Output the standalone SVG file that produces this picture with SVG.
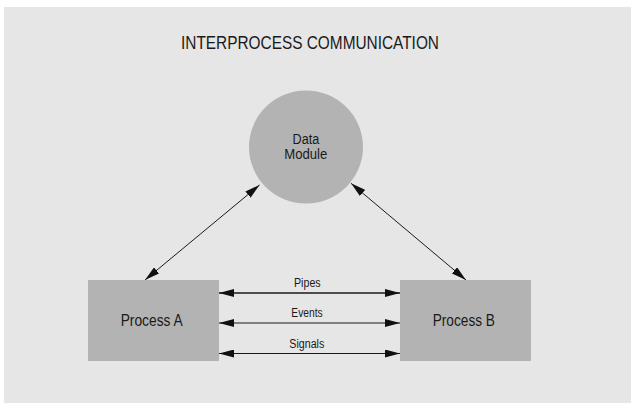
<svg xmlns="http://www.w3.org/2000/svg" width="631" height="403" viewBox="0 0 631 403">
  <style>
    .bg { fill: #e6e6e6; }
    .shape { fill: #b3b3b3; stroke: none; }
    .label { font-family: "Liberation Sans Narrow", "Liberation Sans", Arial, sans-serif; fill: #1a1a1a; }
    .conn { stroke: #1a1a1a; fill: none; }
  </style>
  <defs>
    <marker id="arrow" viewBox="0 0 15 8" refX="15" refY="4" markerWidth="15" markerHeight="8" markerUnits="userSpaceOnUse" orient="auto-start-reverse">
      <path d="M0,0 L15,4 L0,8 z" fill="#111"/>
    </marker>
  </defs>
  <rect class="bg" x="4" y="7" width="627" height="396"/>
  <text class="label" x="181" y="49" font-size="18" textLength="258" lengthAdjust="spacingAndGlyphs">INTERPROCESS COMMUNICATION</text>

  <g id="data-module">
    <ellipse class="shape" cx="306" cy="147" rx="57" ry="56.5"/>
    <text class="label" x="292.5" y="144.3" font-size="14" textLength="26.7" lengthAdjust="spacingAndGlyphs">Data</text>
    <text class="label" x="284.3" y="159" font-size="14" textLength="43" lengthAdjust="spacingAndGlyphs">Module</text>
  </g>
  <g id="process-a">
    <rect class="shape" x="88" y="280" width="131" height="81"/>
    <text class="label" x="120.7" y="325.7" font-size="16" textLength="62" lengthAdjust="spacingAndGlyphs">Process A</text>
  </g>
  <g id="process-b">
    <rect class="shape" x="400" y="280" width="131" height="81"/>
    <text class="label" x="432.7" y="325.7" font-size="16" textLength="62.3" lengthAdjust="spacingAndGlyphs">Process B</text>
  </g>

  <g id="connectors">
    <line class="conn" stroke-width="1" x1="145" y1="280" x2="259.5" y2="185" marker-start="url(#arrow)" marker-end="url(#arrow)"/>
    <line class="conn" stroke-width="1" x1="351" y1="183.3" x2="466" y2="280" marker-start="url(#arrow)" marker-end="url(#arrow)"/>
    <line class="conn" stroke-width="1.4" stroke="#444" x1="219" y1="293" x2="400" y2="293" marker-start="url(#arrow)" marker-end="url(#arrow)"/>
    <line class="conn" stroke-width="1.2" x1="219" y1="323" x2="400" y2="323" marker-start="url(#arrow)" marker-end="url(#arrow)"/>
    <line class="conn" stroke-width="1.2" x1="219" y1="353.5" x2="400" y2="353.5" marker-start="url(#arrow)" marker-end="url(#arrow)"/>
    <text class="label" x="294" y="287" font-size="12" textLength="26.7" lengthAdjust="spacingAndGlyphs">Pipes</text>
    <text class="label" x="291.3" y="317.3" font-size="12" textLength="31.3" lengthAdjust="spacingAndGlyphs">Events</text>
    <text class="label" x="289.3" y="347.7" font-size="12" textLength="35" lengthAdjust="spacingAndGlyphs">Signals</text>
  </g>
</svg>
